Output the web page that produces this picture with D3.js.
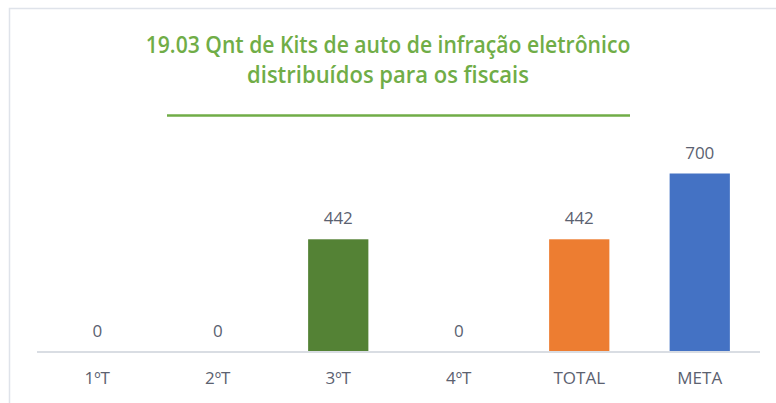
<!DOCTYPE html>
<html>
<head>
<meta charset="utf-8">
<script src="https://cdn.jsdelivr.net/npm/d3@7"></script>
<style>
  body { margin: 0; background: #fff; }
  svg { display: block; }
</style>
</head>
<body>
<svg id="chart" width="776" height="403"></svg>
<script>
// data
const categories = ["1ºT", "2ºT", "3ºT", "4ºT", "TOTAL", "META"]
const values = [0, 0, 442, 0, 442, 700]
const barColors = ["#548235", "#548235", "#548235", "#548235", "#ED7D31", "#4472C4"]
const titleLines = ["19.03 Qnt de Kits de auto de infração eletrônico", "distribuídos para os fiscais"]

const svg = d3.select("#chart")
const font = "'Open Sans', sans-serif"
const textColor = "#5b6170"

// outer frame
svg.append("rect")
  .attr("x", 9.5).attr("y", 8.5)
  .attr("width", 900).attr("height", 600)
  .attr("fill", "none")
  .attr("stroke", "#dfe3ea")
  .attr("stroke-width", 1.5)

// title - Calibri isn't here, so squeeze a taller font sideways
const titleWidths = [485, 282]
titleLines.forEach((t, i) => {
  const cx = 388, cy = 53 + i * 30
  const txt = svg.append("text")
    .attr("x", 0).attr("y", 0)
    .attr("text-anchor", "middle")
    .style("font-family", font)
    .style("font-weight", "600")
    .style("font-size", "23px")
    .attr("fill", "#70AD47")
    .text(t)
  const w = txt.node().getComputedTextLength()
  txt.attr("transform", "translate(" + cx + "," + cy + ") scale(" + (titleWidths[i] / w).toFixed(3) + ",1)")
})
// the row of underscores under the title
svg.append("line")
  .attr("x1", 167).attr("x2", 630)
  .attr("y1", 115.5).attr("y2", 115.5)
  .attr("stroke", "#70AD47")
  .attr("stroke-width", 2.5)

const margin = {left: 37, right: 16, top: 148, bottom: 51}
const width = 776 - margin.left - margin.right
const baseY = 403 - margin.bottom

const x = d3.scaleBand().domain(categories).range([margin.left, margin.left + width]).paddingInner(0.5).paddingOuter(0.25)
const y = d3.scaleLinear().domain([0, 800]).range([baseY, margin.top])

const g = svg.append("g")

g.selectAll("rect.bar").data(values).enter().append("rect")
  .attr("class", "bar")
  .attr("x", (d, i) => x(categories[i]))
  .attr("width", x.bandwidth())
  .attr("y", d => y(d))
  .attr("height", d => baseY - y(d))
  .attr("fill", (d, i) => barColors[i])

g.selectAll("text.val").data(values).enter().append("text")
  .attr("class", "val")
  .attr("x", (d, i) => x(categories[i]) + x.bandwidth() / 2)
  .attr("y", d => y(d) - 15)
  .attr("text-anchor", "middle")
  .style("font-family", font)
  .style("font-size", "17px")
  .attr("fill", textColor)
  .text(d => d)

// x axis
const xAxis = g.append("g")
  .attr("transform", "translate(0," + baseY + ")")
  .call(d3.axisBottom(x).tickSize(0).tickPadding(20))
xAxis.select(".domain")
  .attr("d", "M" + margin.left + ",0H" + (margin.left + width))
  .attr("stroke", "#d9dde3")
  .attr("stroke-width", 2)
xAxis.selectAll("text")
  .style("font-family", font)
  .style("font-size", "17px")
  .attr("fill", textColor)
</script>
</body>
</html>
